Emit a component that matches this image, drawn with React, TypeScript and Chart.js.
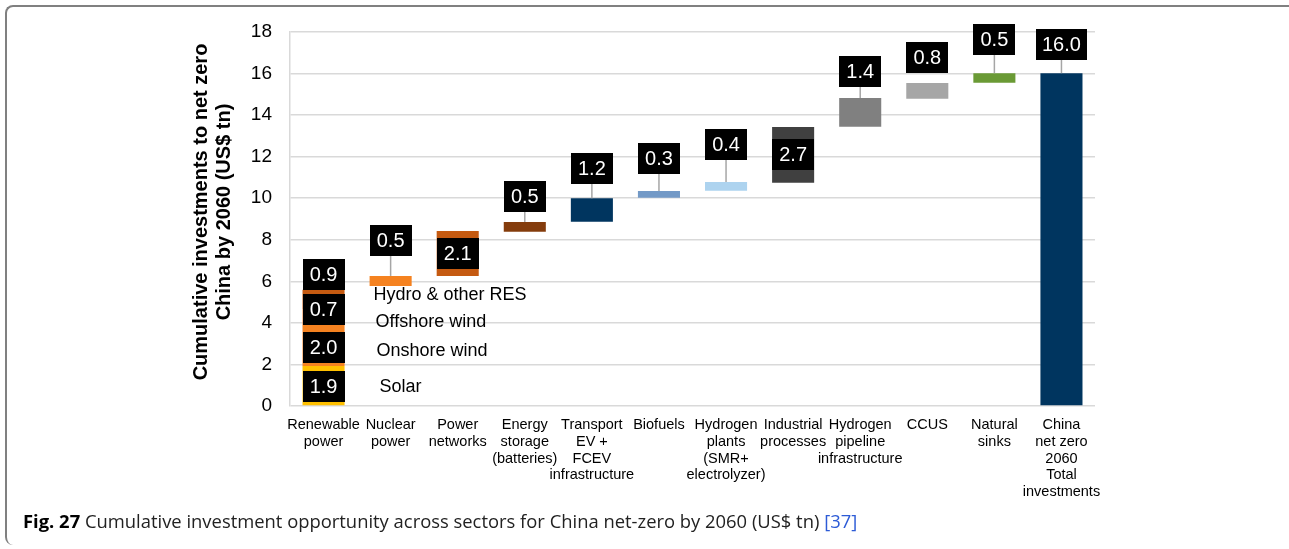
import React, { useEffect, useRef } from "react";
import { Chart, registerables } from "chart.js";
Chart.register(...registerables);

const FONT = "'Liberation Sans', Arial, Helvetica, sans-serif";

const categories: string[][] = [
  ["Renewable", "power"],
  ["Nuclear", "power"],
  ["Power", "networks"],
  ["Energy", "storage", "(batteries)"],
  ["Transport", "EV +", "FCEV", "infrastructure"],
  ["Biofuels"],
  ["Hydrogen", "plants", "(SMR+", "electrolyzer)"],
  ["Industrial", "processes"],
  ["Hydrogen", "pipeline", "infrastructure"],
  ["CCUS"],
  ["Natural", "sinks"],
  ["China", "net zero", "2060", "Total", "investments"],
];

// Renewable power breakdown (stacked in first column)
const renewableParts = ["Solar", "Onshore wind", "Offshore wind", "Hydro & other RES"];
const renewableValues = [1.9, 2.0, 0.7, 0.9];
const renewableBase = [0, 1.93, 3.9, 4.64];
const renewableTop = [1.93, 3.9, 4.64, 5.59];
const renewableLabelAt = [0.95, 2.82, 4.66, 6.34];
const renewableTextAt = [0.91, 2.65, 4.04, 5.34];
const renewableColors = ["#FFC000", "#F58220", "#ED7D31", "#C55A11"];

// Remaining sectors (categories 1..11)
const sectorValues = [0.5, 2.1, 0.5, 1.2, 0.3, 0.4, 2.7, 1.4, 0.8, 0.5, 16.0];
const sectorBase = [5.78, 6.26, 8.39, 8.87, 10.02, 10.36, 10.75, 13.44, 14.79, 15.56, 0];
const sectorTop = [6.26, 8.42, 8.85, 10.0, 10.35, 10.78, 13.43, 14.82, 15.54, 16.02, 16.02];
const sectorLabelAt = [7.97, 7.34, 10.09, 11.44, 11.92, 12.59, 12.1, 16.1, 16.78, 17.64, 17.4];
const sectorLeader = [true, false, true, true, true, true, false, true, false, true, true];
const sectorColors = [
  "#F58220", "#C55A11", "#843C0C", "#00355F", "#7399C6", "#ADD3EF",
  "#404040", "#808080", "#A6A6A6", "#6A9A35", "#00355F",
];

const yMin = 0;
const yMax = 18;
const yStep = 2;

const textDx = [56, 53, 52, 50];

const overlayPlugin = {
  id: "overlay",
  afterDatasetsDraw(chart: any) {
    const { ctx, scales } = chart;
    const x = scales.x;
    const y = scales.y;
    const barW = 42;
    ctx.save();

    // side texts for renewable parts
    ctx.font = `18px ${FONT}`;
    ctx.fillStyle = "#000";
    ctx.textAlign = "left";
    ctx.textBaseline = "middle";
    renewableParts.forEach((t, i) => {
      ctx.fillText(t, x.getPixelForValue(0) + textDx[i], y.getPixelForValue(renewableTextAt[i]));
    });

    const boxH = 31;
    const drawBox = (cx: number, cy: number, text: string) => {
      ctx.font = `20px ${FONT}`;
      const w = Math.max(barW, ctx.measureText(text).width + 12);
      ctx.fillStyle = "#000";
      ctx.fillRect(Math.round(cx - w / 2), Math.round(cy - boxH / 2), Math.round(w), boxH);
      ctx.fillStyle = "#fff";
      ctx.textAlign = "center";
      ctx.textBaseline = "middle";
      ctx.fillText(text, cx, cy + 1);
    };

    // leaders
    ctx.strokeStyle = "#A6A6A6";
    ctx.lineWidth = 1.5;
    sectorValues.forEach((v, i) => {
      if (!sectorLeader[i]) return;
      const cx = x.getPixelForValue(i + 1);
      const cy = y.getPixelForValue(sectorLabelAt[i]);
      ctx.beginPath();
      ctx.moveTo(cx, cy + boxH / 2);
      ctx.lineTo(cx, y.getPixelForValue(sectorTop[i]));
      ctx.stroke();
    });

    renewableValues.forEach((v, i) => {
      drawBox(x.getPixelForValue(0), y.getPixelForValue(renewableLabelAt[i]), v.toFixed(1));
    });
    sectorValues.forEach((v, i) => {
      drawBox(x.getPixelForValue(i + 1), y.getPixelForValue(sectorLabelAt[i]), v.toFixed(1));
    });

    // y axis title
    ctx.fillStyle = "#000";
    ctx.font = `bold 20px ${FONT}`;
    ctx.textAlign = "center";
    ctx.textBaseline = "middle";
    const midY = (y.top + y.bottom) / 2 - 7;
    ctx.translate(213, midY);
    ctx.rotate(-Math.PI / 2);
    ctx.fillText("Cumulative investments to net zero", 0, -11.5);
    ctx.fillText("China by 2060 (US$ tn)", 0, 11.5);
    ctx.restore();
  },
};

export default function App() {
  const ref = useRef<HTMLCanvasElement | null>(null);

  useEffect(() => {
    if (!ref.current) return;
    const datasets: any[] = renewableParts.map((name, i) => ({
      label: name,
      data: categories.map((_, c) => (c === 0 ? [renewableBase[i], renewableTop[i]] : null)),
      backgroundColor: renewableColors[i],
      grouped: false,
      categoryPercentage: 1,
      barPercentage: 0.627,
    }));
    datasets.push({
      label: "Sectors",
      data: categories.map((_, c) => (c === 0 ? null : [sectorBase[c - 1], sectorTop[c - 1]])),
      backgroundColor: categories.map((_, c) => (c === 0 ? "#000" : sectorColors[c - 1])),
      grouped: false,
      categoryPercentage: 1,
      barPercentage: 0.627,
    });

    const chart = new Chart(ref.current, {
      type: "bar",
      data: { labels: categories, datasets },
      options: {
        responsive: false,
        animation: false,
        layout: { padding: { left: 0, right: 194, top: 32, bottom: 0 } },
        plugins: { legend: { display: false }, tooltip: { enabled: false } },
        scales: {
          x: {
            grid: { display: false, drawTicks: false },
            border: { display: false },
            ticks: {
              autoSkip: false,
              maxRotation: 0,
              minRotation: 0,
              padding: 11,
              color: "#000",
              font: { family: FONT, size: 14.5, lineHeight: 1.15 },
            },
            afterFit: (s: any) => {
              s.height = 549 - 406;
            },
          },
          y: {
            min: yMin,
            max: yMax,
            ticks: {
              stepSize: yStep,
              padding: 18,
              color: "#000",
              font: { family: FONT, size: 19 },
            },
            grid: { color: "#D9D9D9", lineWidth: 1.5, drawTicks: false },
            border: { display: true, color: "#D9D9D9", width: 1.5 },
            afterFit: (s: any) => {
              s.width = 290;
            },
          },
        },
      },
      plugins: [overlayPlugin],
    });
    return () => chart.destroy();
  }, []);

  return (
    <div style={{ position: "absolute", left: 0, top: 0, width: 1289, height: 549, background: "#fff", overflow: "hidden" }}>
      <div
        style={{
          position: "absolute",
          left: 5,
          top: 5,
          width: 1300,
          height: 540,
          borderTop: "2px solid #808080",
          borderLeft: "2px solid #808080",
          borderTopLeftRadius: 8,
          borderBottomLeftRadius: 8,
          boxSizing: "border-box",
        }}
      />
      <canvas ref={ref} width={1289} height={549} style={{ position: "absolute", left: 0, top: 0 }} />
      <div
        style={{
          position: "absolute",
          left: 23,
          top: 509,
          lineHeight: "24px",
          fontSize: 18.4,
          fontFamily: "'Open Sans', 'Noto Sans', sans-serif",
          color: "#222",
          whiteSpace: "nowrap",
        }}
      >
        <b style={{ color: "#000" }}>Fig. 27</b> Cumulative investment opportunity across sectors for China net-zero by 2060 (US$ tn){" "}
        <span style={{ color: "#2d5bd6" }}>[37]</span>
      </div>
    </div>
  );
}
